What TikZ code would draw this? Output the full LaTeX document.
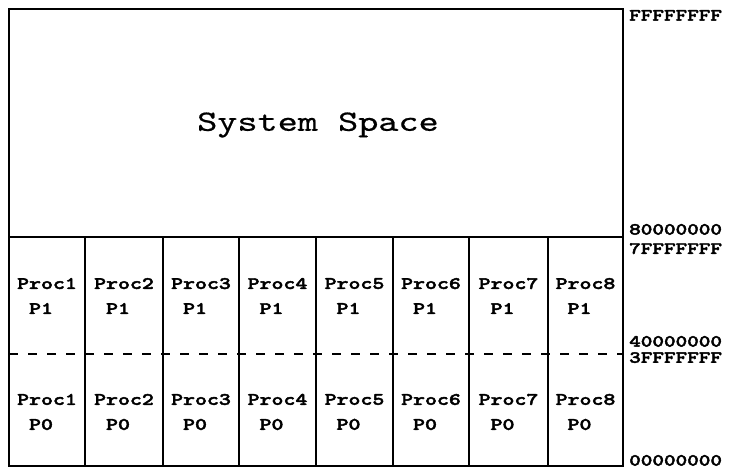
\documentclass[tikz,border=0pt]{standalone}
\usepackage{fontspec}
\newfontfamily\hexfont[FakeStretch=1.3, FakeBold=2.5]{lmmonolt10-bold.otf}
\newfontfamily\sysfont[FakeStretch=1.3, FakeBold=0.6]{lmmono10-regular.otf}
\tikzset{
  rule/.style={line width=2.6pt},
  split/.style={line width=2.6pt, dash pattern=on 9pt off 10pt},
  cell/.style={font=\hexfont\fontsize{17.5}{25}\selectfont, align=left, inner sep=0pt},
  addr/.style={font=\hexfont\fontsize{17}{20}\selectfont, inner sep=0pt},
}
\begin{document}
\begin{tikzpicture}[x=1pt, y=-1pt]
  \useasboundingbox (0,0) rectangle (731,470);
  \def\xL{9}\def\xR{623}\def\yT{9}\def\yS{237}\def\yD{354}\def\yB{466}
  \def\xa{85}\def\xb{163}\def\xc{239}\def\xd{316}\def\xe{393}\def\xf{469}\def\xg{548}
  % outer frame, system/user split, P1/P0 split
  \draw[rule] (\xL,\yT) rectangle (\xR,\yB);
  \draw[rule] (\xL,\yS) -- (\xR,\yS);
  \draw[split] (\xL,\yD) -- (\xR,\yD);
  % process columns
  \draw[rule] (\xa,\yS) -- (\xa,\yB) (\xb,\yS) -- (\xb,\yB) (\xc,\yS) -- (\xc,\yB)
              (\xd,\yS) -- (\xd,\yB) (\xe,\yS) -- (\xe,\yB) (\xf,\yS) -- (\xf,\yB)
              (\xg,\yS) -- (\xg,\yB);
  % system space
  \node[font=\sysfont\fontsize{29.5}{34}\selectfont] (sys) at (318,125) {System Space};
  % P1 row
  \node[cell] (p1a) at (47,296)    {Proc1\\\phantom{P}P1};
  \node[cell] (p1b) at (124,296)   {Proc2\\\phantom{P}P1};
  \node[cell] (p1c) at (201,296)   {Proc3\\\phantom{P}P1};
  \node[cell] (p1d) at (277.5,296) {Proc4\\\phantom{P}P1};
  \node[cell] (p1e) at (354.5,296) {Proc5\\\phantom{P}P1};
  \node[cell] (p1f) at (431,296)   {Proc6\\\phantom{P}P1};
  \node[cell] (p1g) at (508.5,296) {Proc7\\\phantom{P}P1};
  \node[cell] (p1h) at (585.5,296) {Proc8\\\phantom{P}P1};
  % P0 row
  \node[cell] (p0a) at (47,412)    {Proc1\\\phantom{P}P0};
  \node[cell] (p0b) at (124,412)   {Proc2\\\phantom{P}P0};
  \node[cell] (p0c) at (201,412)   {Proc3\\\phantom{P}P0};
  \node[cell] (p0d) at (277.5,412) {Proc4\\\phantom{P}P0};
  \node[cell] (p0e) at (354.5,412) {Proc5\\\phantom{P}P0};
  \node[cell] (p0f) at (431,412)   {Proc6\\\phantom{P}P0};
  \node[cell] (p0g) at (508.5,412) {Proc7\\\phantom{P}P0};
  \node[cell] (p0h) at (585.5,412) {Proc8\\\phantom{P}P0};
  % address labels
  \node[addr, anchor=north west] (atop)  at (629,10)  {FFFFFFFF};
  \node[addr, anchor=south west] (asys)  at (629,235) {80000000};
  \node[addr, anchor=north west] (ausr)  at (629,243) {7FFFFFFF};
  \node[addr, anchor=south west] (aone)  at (629,347) {40000000};
  \node[addr, anchor=north west] (azero) at (629,352) {3FFFFFFF};
  \node[addr, anchor=south west] (abot)  at (629,466) {00000000};
\end{tikzpicture}
\end{document}
